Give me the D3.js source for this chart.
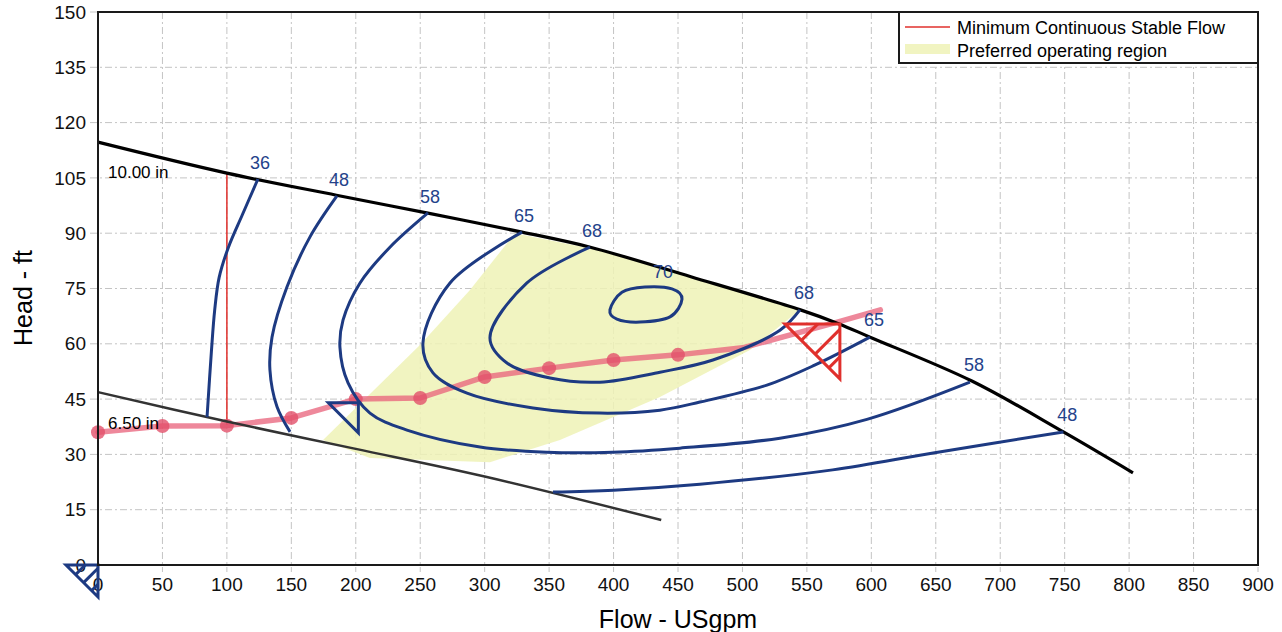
<!DOCTYPE html>
<html>
<head>
<meta charset="utf-8">
<script src="https://cdn.jsdelivr.net/npm/d3@7"></script>
<style>
  body { margin: 0; background: #fff; }
  svg { display: block; font-family: Arial, "Liberation Sans", sans-serif; }
</style>
</head>
<body>
<svg width="1282" height="632"></svg>
<script>
// DATA (flow in USgpm, head in ft)

var xTicks = d3.range(0, 901, 50),
    yTicks = d3.range(0, 151, 15);

// impeller head curves
var head10 = [[0,114.7],[100,106.3],[185,100.3],[255,95.5],[329,90.3],[382,86.2],[460,78.2],[545,69.2],[575,65.4],[599,61.8],[678,49.9],[749,36.1],[803,25]];
var head650 = [[0,46.9],[100,38.9],[200,31.5],[300,24.0],[437,12.2]];

// efficiency contours
var eff36 = [[124.1,104.7],[112,95],[101,86],[94,78],[90.5,69],[88,58],[84.6,40.1]];
var eff48a = [[185.4,100.1],[164.5,89.0],[146.6,75.4],[135.0,61.8],[133.4,52.9],[138.9,42.9],[149.0,36.1]];
var eff48b = [[353,19.8],[400,20.3],[467,21.9],[570,25.8],[648,30.4],[749,36.1]];
var eff58 = [[256,95.5],[226.5,86.2],[203.3,76.5],[190.1,66.4],[187.7,59.1],[194.0,49.4],[211.0,41.2],[239.7,36.6],[296.4,32.0],[348.3,30.6],[399.5,30.6],[451.5,31.7],[529.1,34.4],[596.6,39.5],[676.5,49.6]];
var eff65 = [[329,90.3],[273.1,76.5],[252.1,60.2],[259.9,52.1],[286.3,46.6],[337.5,42.6],[389.4,41.2],[436.0,42.0],[467.0,44.2],[519.0,48.8],[556,54.2],[598.9,61.8]];
var eff68 = [[381.7,86.2],[332.8,76.5],[304.1,61.6],[317.3,54.8],[350.7,50.7],[389.4,49.6],[436.0,52.3],[477.1,55.6],[529.1,63.7],[544.6,69.2]];
var eff70 = [[397.2,69.2],[406.5,74.0],[424.4,75.4],[445.3,74.9],[453.1,72.1],[443.8,67.3],[420.5,65.9],[402.6,66.7]];

// curve end labels
var effOpen = [
  { label: "36", pts: eff36 },
  { label: "48", pts: eff48a },
  { label: "58", pts: eff58 },
  { label: "65", pts: eff65 },
  { label: "68", pts: eff68 }
];
var rightLabels = [["68", 544.6, 69.2], ["65", 598.9, 61.8], ["58", 676.5, 49.6], ["48", 749, 36.1]];
var label70 = ["70", 438.3, 77.8];

// minimum continuous stable flow
var mcsfFlow = 100,
    mcsfHeads = [38, 106.3];

// hand drawn system line
var sysFlow = [0, 50, 100, 150, 200, 250, 300, 350, 400, 450, 500, 575, 607];
var sysHead = [36, 37.7, 37.8, 39.9, 45, 45.3, 51, 53.4, 55.6, 57, 58.9, 66, 69.2];
var sysDots = 10; // first n points carry a dot

// preferred operating region outline
var regionFlow = [174.6, 211, 304.1, 358.4, 436, 505.8, 544.6, 467, 389, 323.5, 288.6, 249.8];
var regionHead = [33.9, 29.0, 27.9, 33.9, 45.6, 58.3, 69.2, 77.3, 85.4, 90.0, 74.6, 59.7];

// hand drawn triangles (flow, head of right-angle corner)
var triangles = [
  { q: 0, h: 0, kind: "blueHatch" },
  { q: 202, h: 44, kind: "blue" },
  { q: 575.6, h: 65.4, kind: "redHatch" }
];

// SETUP

var svg = d3.select("svg"),
    margin = { top: 12, right: 24, bottom: 67, left: 98 },
    W = 1282, H = 632;

var x = d3.scaleLinear().domain([0, 900]).range([margin.left, W - margin.right]),
    y = d3.scaleLinear().domain([0, 150]).range([H - margin.bottom, margin.top]);

var BLUE = "#1d3a82", RED = "#e0302c";

var line = d3.line()
  .x(function (d) { return x(d[0]); })
  .y(function (d) { return y(d[1]); })
  .curve(d3.curveCatmullRom.alpha(0.5));

var straight = d3.line()
  .x(function (d) { return x(d[0]); })
  .y(function (d) { return y(d[1]); });

// grid
var grid = svg.append("g").attr("stroke", "#c4c4c4").attr("stroke-dasharray", "7,3,2,3");
grid.selectAll(".gx").data(xTicks).enter().append("line")
  .attr("x1", function (d) { return x(d); }).attr("x2", function (d) { return x(d); })
  .attr("y1", y(150)).attr("y2", y(0) + 7);
grid.selectAll(".gy").data(yTicks).enter().append("line")
  .attr("y1", function (d) { return y(d); }).attr("y2", function (d) { return y(d); })
  .attr("x1", x(0) - 8).attr("x2", x(900));

// preferred region
var region = regionFlow.map(function (q, i) { return [q, regionHead[i]]; });
svg.append("path")
  .attr("d", straight.curve(d3.curveLinearClosed)(region))
  .attr("fill", "#eef2b6").attr("opacity", 0.85);
straight.curve(d3.curveLinear);

// MCSF line
svg.append("line")
  .attr("x1", x(mcsfFlow)).attr("x2", x(mcsfFlow))
  .attr("y1", y(mcsfHeads[0])).attr("y2", y(mcsfHeads[1]))
  .attr("stroke", RED).attr("stroke-width", 1.5);

// system line with dots
var sys = sysFlow.map(function (q, i) { return [q, sysHead[i]]; });
svg.append("path")
  .attr("d", straight(sys))
  .attr("fill", "none").attr("stroke", "#e8607a").attr("stroke-width", 5.5)
  .attr("stroke-linecap", "round").attr("stroke-linejoin", "round").attr("opacity", 0.75);
svg.selectAll(".dot").data(sys.slice(0, sysDots)).enter().append("circle")
  .attr("cx", function (d) { return x(d[0]); })
  .attr("cy", function (d) { return y(d[1]); })
  .attr("r", 7).attr("fill", "#e2506a").attr("opacity", 0.8);

// head curves
svg.append("path").attr("d", line(head650))
  .attr("fill", "none").attr("stroke", "#333").attr("stroke-width", 2.5);
svg.append("path").attr("d", line(head10))
  .attr("fill", "none").attr("stroke", "#000").attr("stroke-width", 3.2);

// efficiency curves
[eff36, eff48a, eff48b, eff58, eff65, eff68].forEach(function (pts) {
  svg.append("path").attr("d", line(pts))
    .attr("fill", "none").attr("stroke", BLUE).attr("stroke-width", 3);
});
svg.append("path")
  .attr("d", straight.curve(d3.curveCardinalClosed)(eff70))
  .attr("fill", "none").attr("stroke", BLUE).attr("stroke-width", 3);
straight.curve(d3.curveLinear);

// labels
var labels = svg.append("g").attr("font-size", 18).attr("fill", "#24428a").attr("text-anchor", "middle");
effOpen.forEach(function (c) {
  labels.append("text").attr("x", x(c.pts[0][0]) + 2).attr("y", y(c.pts[0][1]) - 10).text(c.label);
});
rightLabels.forEach(function (d) {
  labels.append("text").attr("x", x(d[1]) + 4).attr("y", y(d[2]) - 11).text(d[0]);
});
labels.append("text").attr("x", x(label70[1])).attr("y", y(label70[2])).text(label70[0]);

svg.append("text").attr("x", x(0) + 10).attr("y", y(head10[0][1]) + 36)
  .attr("font-size", 17).text("10.00 in");
svg.append("text").attr("x", x(0) + 10).attr("y", y(head650[0][1]) + 37)
  .attr("font-size", 17).text("6.50 in");

// triangles
function tri(t) {
  var size = t.kind === "redHatch" ? 55 : (t.kind === "blue" ? 30 : 32),
      color = t.kind === "redHatch" ? RED : BLUE,
      cx = x(t.q), cy = y(t.h),
      g = svg.append("g").attr("transform", "translate(" + cx + "," + cy + ")")
        .attr("stroke", color).attr("stroke-width", 3).attr("fill", "none");
  g.append("path").attr("d", "M" + (-size) + ",0L0,0L0," + size + "Z");
  if (t.kind !== "blue") {
    [0.3, 0.55, 0.8].forEach(function (f) {
      var px = -size + size * f, py = size * f, ex, ey;
      if (f <= 0.5) { ex = -size + 2 * size * f; ey = 0; }
      else { ex = 0; ey = 2 * size * f - size; }
      g.append("line").attr("x1", px).attr("y1", py).attr("x2", ex).attr("y2", ey);
    });
  }
}

// axes
var ax = svg.append("g").attr("font-size", 19).attr("fill", "#111");
ax.selectAll(".yl").data(yTicks).enter().append("text")
  .attr("x", x(0) - 12).attr("y", function (d) { return y(d); })
  .attr("dy", "0.35em").attr("text-anchor", "end").text(function (d) { return d; });
ax.selectAll(".xl").data(xTicks).enter().append("text")
  .attr("x", function (d) { return x(d); }).attr("y", y(0) + 26)
  .attr("text-anchor", "middle").text(function (d) { return d; });

triangles.forEach(tri);

svg.append("rect")
  .attr("x", x(0)).attr("y", y(150))
  .attr("width", x(900) - x(0)).attr("height", y(0) - y(150))
  .attr("fill", "none").attr("stroke", "#1a1a1a").attr("stroke-width", 2);

svg.append("text").attr("x", 678).attr("y", 628)
  .attr("font-size", 25).attr("text-anchor", "middle").text("Flow - USgpm");
svg.append("text")
  .attr("transform", "translate(32," + 298 + ") rotate(-90)")
  .attr("font-size", 25).attr("text-anchor", "middle").text("Head - ft");

// legend
var lg = svg.append("g").attr("transform", "translate(899,12)");
lg.append("rect").attr("width", 359).attr("height", 51)
  .attr("fill", "#fff").attr("stroke", "#1a1a1a").attr("stroke-width", 2);
lg.append("line").attr("x1", 6).attr("x2", 51).attr("y1", 15).attr("y2", 15)
  .attr("stroke", RED).attr("stroke-width", 1.5);
lg.append("rect").attr("x", 6).attr("y", 32).attr("width", 45).attr("height", 10)
  .attr("fill", "#eef2b6").attr("opacity", 0.85);
lg.append("text").attr("x", 58).attr("y", 22).attr("font-size", 18).text("Minimum Continuous Stable Flow");
lg.append("text").attr("x", 58).attr("y", 45).attr("font-size", 18).text("Preferred operating region");
</script>
</body>
</html>
